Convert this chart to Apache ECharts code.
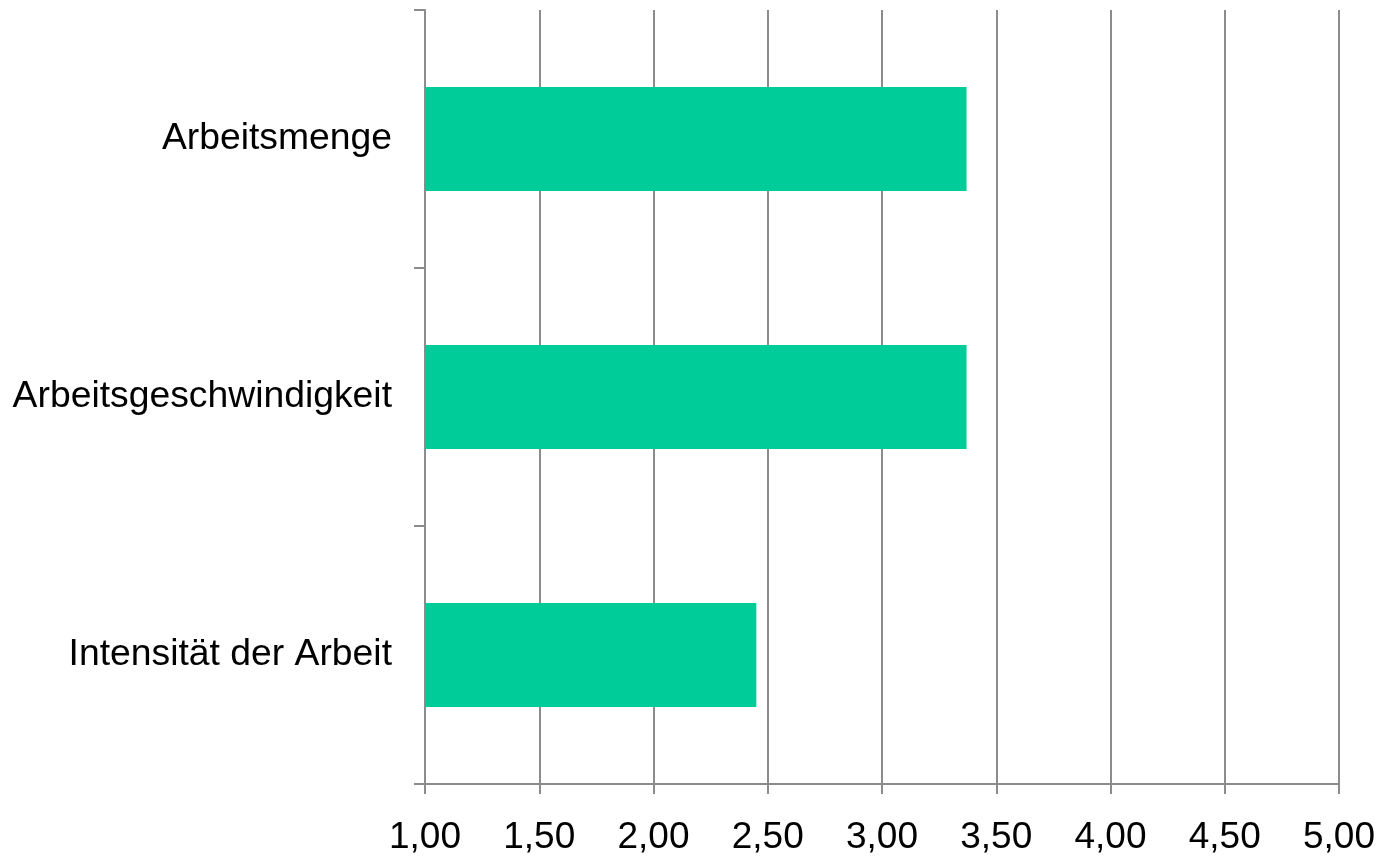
<!DOCTYPE html>
<html>
<head>
<meta charset="utf-8">
<script src="https://cdn.jsdelivr.net/npm/echarts@6/dist/echarts.min.js"></script>
<style>
html,body{margin:0;padding:0;background:#fff;}
#chart{width:1381px;height:860px;}
</style>
</head>
<body>
<div id="chart"></div>
<script>
const categories = ['Arbeitsmenge', 'Arbeitsgeschwindigkeit', 'Intensität der Arbeit'];
const values = [3.37, 3.37, 2.45];
const xMin = 1, xMax = 5, xStep = 0.5;

const chart = echarts.init(document.getElementById('chart'));
const gray = '#8c8c8c';
chart.setOption({
  animation: false,
  grid: {left: 425, right: 42, top: 10, bottom: 76, containLabel: false},
  xAxis: {
    type: 'value', min: xMin, max: xMax, interval: xStep,
    axisLine: {show: true, lineStyle: {color: gray, width: 2}},
    axisTick: {show: true, length: 10, lineStyle: {color: gray, width: 2}},
    splitLine: {show: true, lineStyle: {color: gray, width: 2}},
    axisLabel: {
      margin: 35,
      fontFamily: 'Liberation Sans, Arial, sans-serif',
      fontSize: 37, color: '#000',
      formatter: v => v.toFixed(2).replace('.', ',')
    }
  },
  yAxis: {
    type: 'category', data: categories, inverse: true,
    axisLine: {show: true, lineStyle: {color: gray, width: 2}},
    axisTick: {show: true, length: 11, lineStyle: {color: gray, width: 2}},
    splitLine: {show: false},
    axisLabel: {
      margin: 33,
      fontFamily: 'Liberation Sans, Arial, sans-serif',
      fontSize: 37.3, color: '#000'
    }
  },
  series: [{
    type: 'bar', data: values, barWidth: 104,
    itemStyle: {color: '#00cc99'}
  }]
});
</script>
</body>
</html>
